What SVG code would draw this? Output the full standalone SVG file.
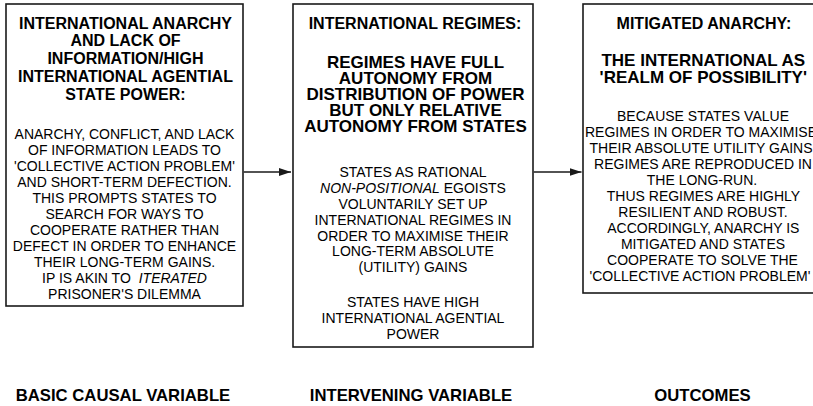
<svg xmlns="http://www.w3.org/2000/svg" width="813" height="406" viewBox="0 0 813 406">
<defs>
<style>
.box{fill:#fff;stroke:#1a1a1a;stroke-width:1.6}
.t{font-family:"Liberation Sans",Arial,Helvetica,sans-serif;fill:#000;text-anchor:middle}
.h{font-size:16px;font-weight:bold}
.h2{font-size:17px;font-weight:bold}
.b{font-size:14px}
.lab{font-size:16.7px;font-weight:bold}
.i{font-style:italic}
.conn{stroke:#1a1a1a;stroke-width:1.5;fill:none}
</style>
<marker id="arr" markerUnits="userSpaceOnUse" markerWidth="12" markerHeight="8" refX="12" refY="4" orient="auto">
<path d="M0,0 L12,4 L0,8 z" fill="#1a1a1a"/>
</marker>
</defs>
<rect width="813" height="406" fill="#fff"/>

<g id="node-basic">
<rect class="box" x="6" y="4" width="237" height="302"/>
<text class="t h" x="125.5" y="28.5">INTERNATIONAL ANARCHY</text>
<text class="t h" x="125.5" y="46.3">AND LACK OF</text>
<text class="t h" x="125.5" y="64">INFORMATION/HIGH</text>
<text class="t h" x="125.5" y="81.8">INTERNATIONAL AGENTIAL</text>
<text class="t h" x="125.5" y="99.5">STATE POWER:</text>
<text class="t b" x="124.5" y="138.5">ANARCHY, CONFLICT, AND LACK</text>
<text class="t b" x="124.5" y="154.5">OF INFORMATION LEADS TO</text>
<text class="t b" x="124.5" y="170.5">'COLLECTIVE ACTION PROBLEM'</text>
<text class="t b" x="124.5" y="186.5">AND SHORT-TERM DEFECTION.</text>
<text class="t b" x="124.5" y="202.5">THIS PROMPTS STATES TO</text>
<text class="t b" x="124.5" y="218.5">SEARCH FOR WAYS TO</text>
<text class="t b" x="124.5" y="234.5">COOPERATE RATHER THAN</text>
<text class="t b" x="124.5" y="250.5">DEFECT IN ORDER TO ENHANCE</text>
<text class="t b" x="124.5" y="266.5">THEIR LONG-TERM GAINS.</text>
<text class="t b" x="124.5" y="282.5">IP IS AKIN TO <tspan class="i" dx="4">ITERATED</tspan></text>
<text class="t b" x="124.5" y="298.5">PRISONER'S DILEMMA</text>
</g>

<g id="node-intervening">
<rect class="box" x="293" y="4" width="240" height="343"/>
<text class="t h" x="415" y="29.3">INTERNATIONAL REGIMES:</text>
<text class="t h2" x="415.5" y="68.3">REGIMES HAVE FULL</text>
<text class="t h2" x="415.5" y="84.3">AUTONOMY FROM</text>
<text class="t h2" x="415.5" y="100.3">DISTRIBUTION OF POWER</text>
<text class="t h2" x="415.5" y="116.3">BUT ONLY RELATIVE</text>
<text class="t h2" x="415.5" y="132.3">AUTONOMY FROM STATES</text>
<text class="t b" x="413" y="176.7">STATES AS RATIONAL</text>
<text class="t b" x="413" y="192.7"><tspan class="i">NON-POSITIONAL</tspan> EGOISTS</text>
<text class="t b" x="413" y="208.7">VOLUNTARILY SET UP</text>
<text class="t b" x="413" y="224.6">INTERNATIONAL REGIMES IN</text>
<text class="t b" x="413" y="240.5">ORDER TO MAXIMISE THEIR</text>
<text class="t b" x="413" y="256.4">LONG-TERM ABSOLUTE</text>
<text class="t b" x="413" y="272.3">(UTILITY) GAINS</text>
<text class="t b" x="413" y="306.5">STATES HAVE HIGH</text>
<text class="t b" x="413" y="322.5">INTERNATIONAL AGENTIAL</text>
<text class="t b" x="413" y="338.5">POWER</text>
</g>

<g id="node-outcomes">
<rect class="box" x="583" y="4" width="245" height="289"/>
<text class="t h" x="704" y="29.3">MITIGATED ANARCHY:</text>
<text class="t h2" x="703.3" y="66">THE INTERNATIONAL AS</text>
<text class="t h2" x="703.3" y="82.5">'REALM OF POSSIBILITY'</text>
<text class="t b" x="703" y="120.5">BECAUSE STATES VALUE</text>
<text class="t b" x="701" y="136.5">REGIMES IN ORDER TO MAXIMISE</text>
<text class="t b" x="703" y="152.5">THEIR ABSOLUTE UTILITY GAINS,</text>
<text class="t b" x="703" y="168.5">REGIMES ARE REPRODUCED IN</text>
<text class="t b" x="702" y="184.5">THE LONG-RUN.</text>
<text class="t b" x="703.5" y="200.5">THUS REGIMES ARE HIGHLY</text>
<text class="t b" x="703" y="216.5">RESILIENT AND ROBUST.</text>
<text class="t b" x="703.3" y="232.5">ACCORDINGLY, ANARCHY IS</text>
<text class="t b" x="703" y="248.5">MITIGATED AND STATES</text>
<text class="t b" x="702.5" y="264.5">COOPERATE TO SOLVE THE</text>
<text class="t b" x="700" y="280.5">'COLLECTIVE ACTION PROBLEM'</text>
</g>

<g id="connectors">
<line class="conn" x1="243.8" y1="172" x2="291" y2="172" marker-end="url(#arr)"/>
<line class="conn" x1="533.8" y1="172" x2="581.5" y2="172" marker-end="url(#arr)"/>
</g>

<g id="labels">
<text class="t lab" x="123" y="401">BASIC CAUSAL VARIABLE</text>
<text class="t lab" x="411" y="401">INTERVENING VARIABLE</text>
<text class="t lab" x="702.5" y="401">OUTCOMES</text>
</g>
</svg>
